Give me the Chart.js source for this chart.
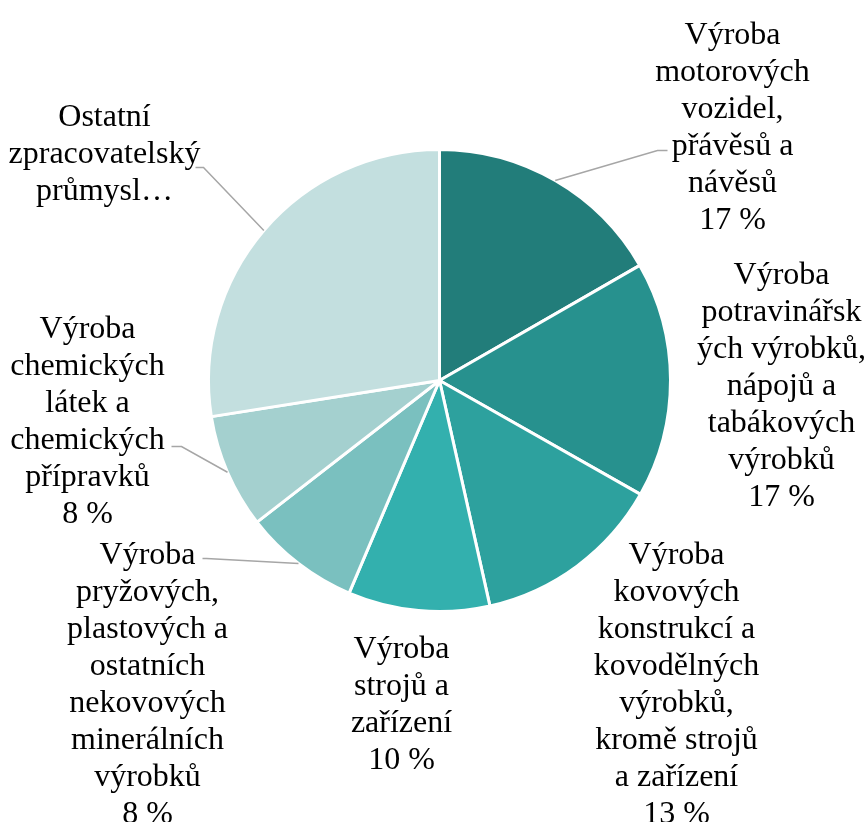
<!DOCTYPE html>
<html>
<head>
<meta charset="utf-8">
<script src="https://cdn.jsdelivr.net/npm/chart.js@4"></script>
<style>
  html, body { margin: 0; padding: 0; background: #fff; }
  #wrap { width: 864px; height: 822px; }
</style>
</head>
<body>
<div id="wrap"><canvas id="pieChart" width="864" height="822"></canvas></div>
<script>
// Data
const categories = [
  "Výroba motorových vozidel, přávěsů a návěsů",
  "Výroba potravinářských výrobků, nápojů a tabákových výrobků",
  "Výroba kovových konstrukcí a kovodělných výrobků, kromě strojů a zařízení",
  "Výroba strojů a zařízení",
  "Výroba pryžových, plastových a ostatních nekovových minerálních výrobků",
  "Výroba chemických látek a chemických přípravků",
  "Ostatní zpracovatelský průmysl"
]
const shares = [16.7, 16.5, 13.3, 9.9, 8.1, 8.0, 27.5]
const labelLines = [
  ["Výroba", "motorových", "vozidel,", "přávěsů a", "návěsů"],
  ["Výroba", "potravinářsk", "ých výrobků,", "nápojů a", "tabákových", "výrobků"],
  ["Výroba", "kovových", "konstrukcí a", "kovodělných", "výrobků,", "kromě strojů", "a zařízení"],
  ["Výroba", "strojů a", "zařízení"],
  ["Výroba", "pryžových,", "plastových a", "ostatních", "nekovových", "minerálních", "výrobků"],
  ["Výroba", "chemických", "látek a", "chemických", "přípravků"],
  ["Ostatní", "zpracovatelský", "průmysl…"]
]
const showPercent = [true, true, true, true, true, true, false]
const colors = ["#227d7a", "#27918e", "#2da19e", "#33b0ae", "#7ac0bf", "#a4d0cf", "#c3dfdf"]

// label layout: text centre x, first line y (relative to pie centre), optional leader elbow
const labelLayout = [
  { x: 293, y: -345, elbow: [218, -230], tail: 228 },
  { x: 342, y: -105 },
  { x: 237, y: 175 },
  { x: -38, y: 269 },
  { x: -292, y: 175, elbow: [-233, 178], tail: -237 },
  { x: -352, y: -51, elbow: [-258, 66], tail: -268 },
  { x: -335, y: -263, elbow: [-236, -213], tail: -244 }
]
const FONT = '32px "Liberation Serif", "Times New Roman", serif'
const LINE_H = 37

const pieLabels = {
  id: "pieLabels",
  afterDraw(chart) {
    const ctx = chart.ctx
    const arcs = chart.getDatasetMeta(0).data
    ctx.save()
    arcs.forEach((arc, i) => {
      const lay = labelLayout[i]
      const cx = arc.x, cy = arc.y
      if (lay.elbow) {
        const mid = (arc.startAngle + arc.endAngle) / 2
        const r = arc.outerRadius
        ctx.strokeStyle = "#a6a6a6"
        ctx.lineWidth = 1.5
        ctx.beginPath()
        ctx.moveTo(cx + Math.cos(mid) * r, cy + Math.sin(mid) * r)
        ctx.lineTo(cx + lay.elbow[0], cy + lay.elbow[1])
        ctx.lineTo(cx + lay.tail, cy + lay.elbow[1])
        ctx.stroke()
      }
      const lines = labelLines[i].slice()
      if (showPercent[i]) lines.push(Math.round(shares[i]) + " %")
      ctx.fillStyle = "#000"
      ctx.font = FONT
      ctx.textAlign = "center"
      ctx.textBaseline = "middle"
      lines.forEach((t, k) => {
        ctx.fillText(t, cx + lay.x, cy + lay.y + k * LINE_H)
      })
    })
    ctx.restore()
  }
}

new Chart(document.getElementById("pieChart"), {
  type: "pie",
  data: {
    labels: categories,
    datasets: [{
      data: shares,
      backgroundColor: colors,
      borderColor: "#ffffff",
      borderWidth: 3
    }]
  },
  options: {
    responsive: false,
    animation: false,
    layout: { padding: { left: 207, right: 192, top: 148, bottom: 209 } },
    plugins: {
      legend: { display: false },
      tooltip: { enabled: false }
    }
  },
  plugins: [pieLabels]
})
</script>
</body>
</html>
